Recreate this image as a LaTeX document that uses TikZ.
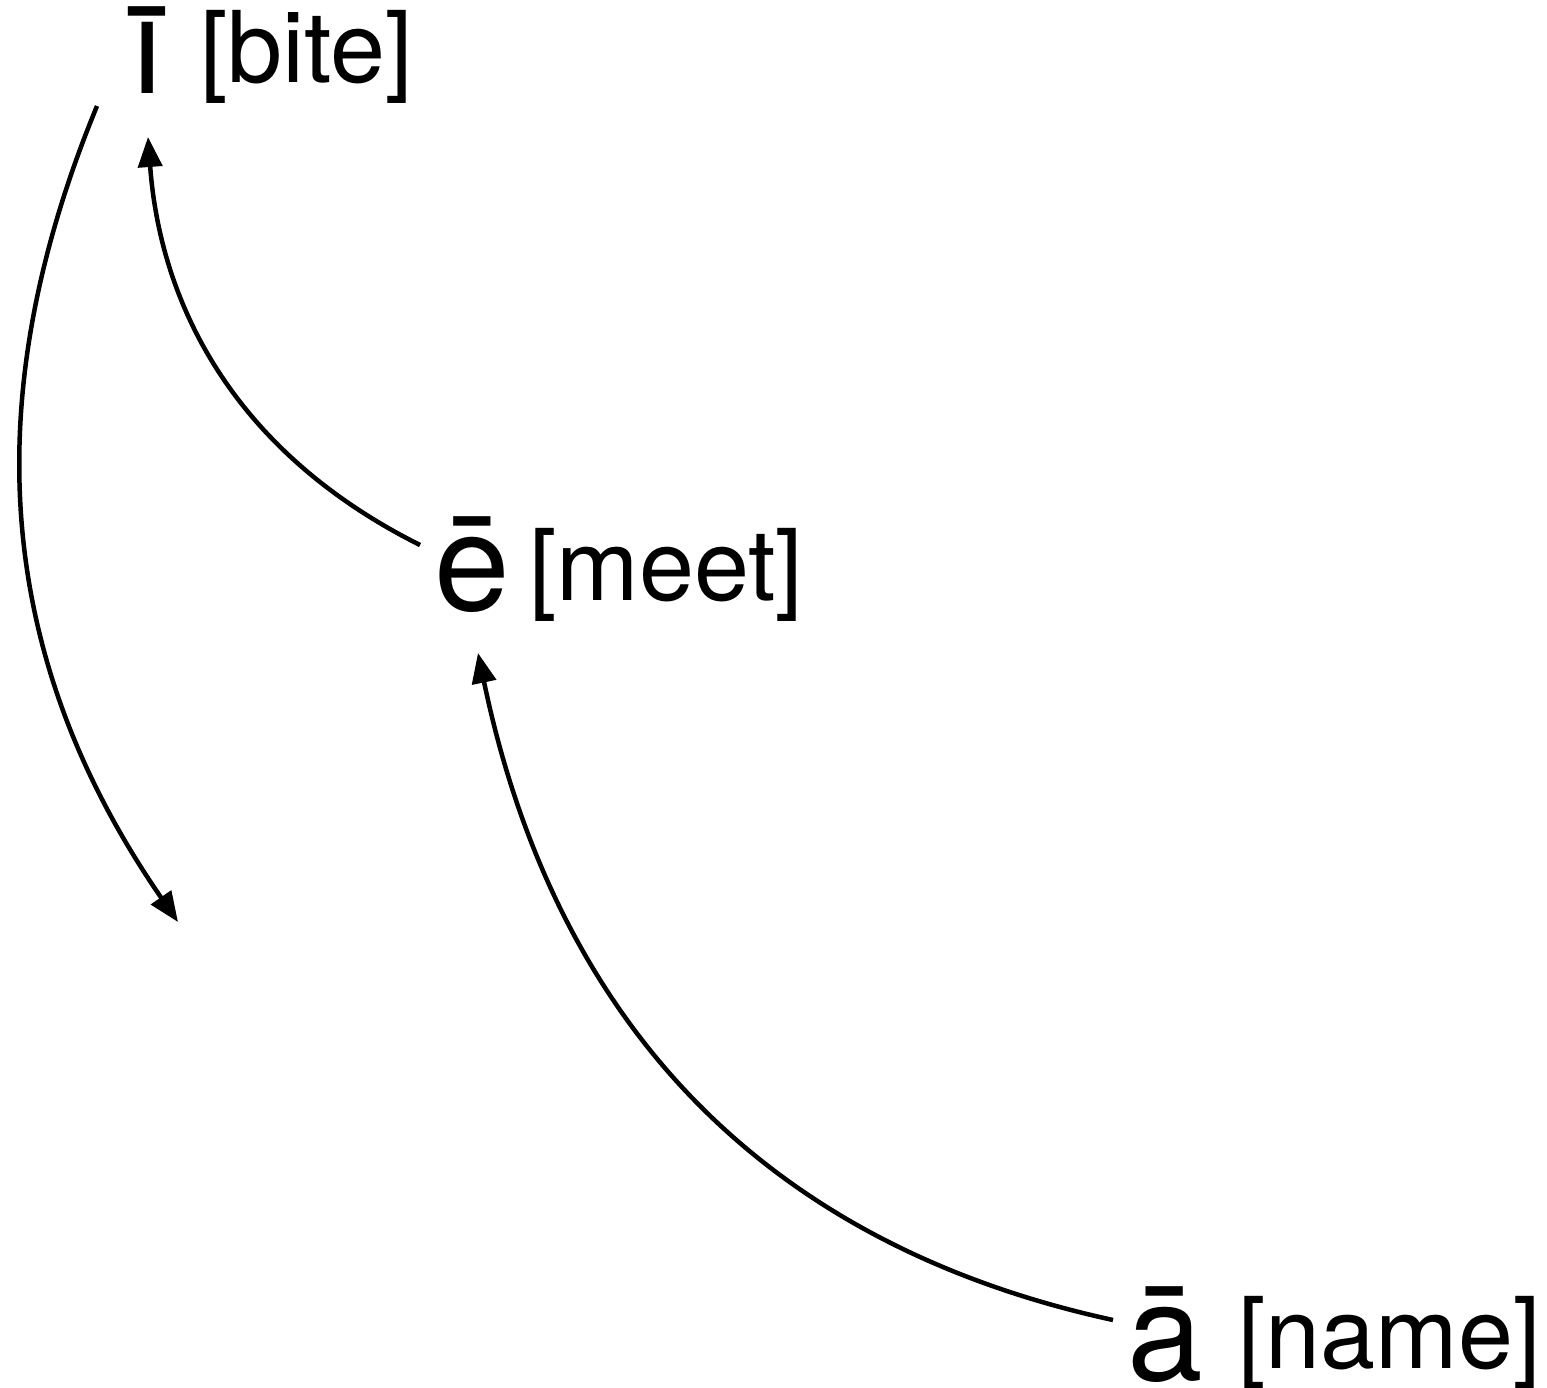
\documentclass[tikz,border=0pt]{standalone}
\usepackage{fontspec}
\setmainfont{TeX Gyre Heros}
\usetikzlibrary{arrows.meta}
% dotless i with a macron set a little lower than the precomposed glyph
\newcommand{\lowmacroni}{\ooalign{ı\cr\hidewidth\raisebox{-7pt}{¯}\hidewidth\cr}}
\tikzset{
  vowel/.style={anchor=base west, inner sep=0pt, font=\fontsize{136}{136}\selectfont},
  gloss/.style={anchor=base west, inner sep=0pt, font=\fontsize{99}{99}\selectfont},
  shift arrow/.style={line width=4.5pt, -{Triangle[length=30pt,width=24pt]}}
}
\begin{document}
\begin{tikzpicture}[x=1pt,y=-1pt]
  \useasboundingbox (0,0) rectangle (1547,1388);
  % vowels and their example words
  \node[vowel] (vi) at (132,94) {\lowmacroni};
  \node[gloss] (wi) at (200,83) {[bite]};
  \node[vowel] (ve) at (434,610) {ē};
  \node[gloss] (we) at (529,600) {[meet]};
  \node[vowel] (va) at (1127,1380) {ā};
  \node[gloss] (wa) at (1238,1368) {[name]};
  % connector end points
  \coordinate (iout) at (97,106);
  \coordinate (iend) at (178,922);
  \coordinate (eout) at (420,545);
  \coordinate (ein) at (148,137);
  \coordinate (aout) at (1113,1320);
  \coordinate (ain) at (478,653);
  % vowel shifts
  \draw[shift arrow] (iout) .. controls (-20,390) and (-10,650) .. (iend);
  \draw[shift arrow] (eout) .. controls (230,450) and (160,300) .. (ein);
  \draw[shift arrow] (aout) .. controls (700,1230) and (540,950) .. (ain);
\end{tikzpicture}
\end{document}
